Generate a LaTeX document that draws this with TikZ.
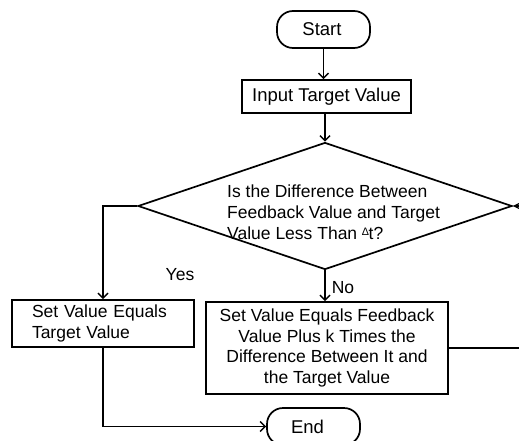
\documentclass[tikz,border=0pt]{standalone}
\usepackage{fontspec}
\setmainfont{Liberation Sans}
\usetikzlibrary{shapes.geometric,arrows.meta,calc}
\begin{document}
\begin{tikzpicture}[x=1pt,y=-1pt,
  every node/.style={font=\fontsize{17.5}{20.8}\selectfont},
  big/.style={font=\fontsize{18.5}{22}\selectfont},
  box/.style={draw, line width=1.7pt, inner sep=2pt},
  term/.style={draw, line width=1.7pt, rounded corners=16pt,
    minimum width=93pt, minimum height=37pt, inner sep=0pt, big},
  flow/.style={line width=1.7pt, -{Straight Barb[length=5pt,width=10pt,line width=1.5pt]}},
  link/.style={line width=1.7pt},
  lbl/.style={inner sep=0pt}]
\useasboundingbox (0,0) rectangle (519,441);
\clip (0,0) rectangle (519,441);

% terminals and process boxes
\node[term] (start) at (323.5,29.5) {Start\hspace*{3pt}};
\node[box, big, minimum width=169pt, minimum height=33pt] (input) at (326.5,96.5) {Input Target Value};
\node[draw, line width=1.7pt, diamond, minimum width=374pt, minimum height=127pt,
  inner sep=0pt] (test) at (325,206) {};
\node[lbl, anchor=west, align=left] (testtext) at (227,212)
  {Is the Difference Between\\Feedback Value and Target\\Value Less Than \raisebox{4pt}{\scalebox{0.62}{∆}}t?};
\node[box, minimum width=182pt, minimum height=47pt, inner xsep=20pt,
  text width=142pt, align=left] (setval) at (103,323.5)
  {Set Value Equals\\Target Value};
\node[box, minimum width=242pt, minimum height=92pt, align=center] (adjust) at (327,348)
  {Set Value Equals Feedback\\Value Plus k Times the\\Difference Between It and\\the Target Value};
\node[term] (end) at (313.5,426.5) {End\hspace*{12pt}};

% branch labels
\node[lbl] (yes) at (180,275) {Yes};
\node[lbl] (no) at (343,288) {No};

% loop-back column to the right
\coordinate (loopx) at (545,0);

% connectors
\draw[flow] (start.south) -- (start.south |- input.north);
\draw[flow] (input.south -| test.north) -- (test.north);
\draw[flow] (test.west) -| (setval.north);
\draw[flow] (test.south) -- (test.south |- adjust.north);
\draw[flow] (setval.south) |- (end.west);
\draw[link] (adjust.east) -- (adjust.east -| loopx) -- (loopx |- test.east);
\draw[line width=1.7pt, -{Stealth[length=7pt,width=7pt]}] (loopx |- test.east) -- (test.east);
\end{tikzpicture}
\end{document}
